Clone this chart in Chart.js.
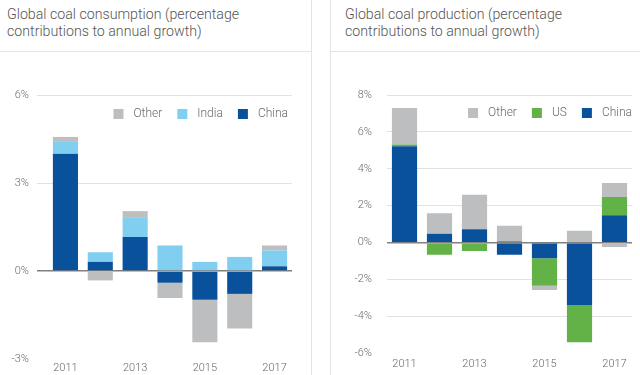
<!DOCTYPE html>
<html>
<head>
<meta charset="utf-8">
<script src="https://cdn.jsdelivr.net/npm/chart.js@4/dist/chart.umd.min.js"></script>
<style>
  body { margin: 0; background: #fff; font-family: Roboto, "Liberation Sans", sans-serif; }
  #wrap { position: relative; width: 640px; height: 375px; overflow: hidden; }
  .title { position: absolute; top: 6px; font-size: 14.2px; font-weight: 300; color: #555; line-height: 17px; }
  .vline { position: absolute; top: 0; width: 1px; height: 375px; background: #e4e4e4; }
  .hline { position: absolute; top: 51px; height: 1px; background: #e4e4e4; }
  .box { position: absolute; top: 52px; height: 323px; }
</style>
</head>
<body>
<div id="wrap">
  <div class="title" style="left:7px">Global coal consumption (percentage<br>contributions to annual growth)</div>
  <div class="title" style="left:345px">Global coal production (percentage<br>contributions to annual growth)</div>
  <div class="vline" style="left:311px"></div>
  <div class="vline" style="left:330px"></div>
  <div class="hline" style="left:0; width:311px"></div>
  <div class="hline" style="left:331px; width:309px"></div>
  <div class="box" style="left:0; width:311px"><canvas id="consumption"></canvas></div>
  <div class="box" style="left:331px; width:309px"><canvas id="production"></canvas></div>
</div>
<script>
const years = ['2011', '2012', '2013', '2014', '2015', '2016', '2017'];
const shownYears = ['2011', '2013', '2015', '2017'];

// consumption, % points
const consChina = [4.0, 0.31, 1.16, -0.40, -0.98, -0.78, 0.16];
const consIndia = [0.40, 0.33, 0.65, 0.87, 0.31, 0.48, 0.54];
const consOther = [0.17, -0.32, 0.23, -0.52, -1.45, -1.18, 0.17];
const consTicks = [-3, 0, 3, 6];

// production, % points
const prodChina = [5.23, 0.48, 0.73, -0.66, -0.84, -3.38, 1.48];
const prodUS = [0.09, -0.66, -0.45, 0.09, -1.50, -2.02, 1.00];
const prodOther = [1.98, 1.11, 1.86, 0.82, -0.22, 0.64, 0.75];
const prodOtherNeg = [0, 0, 0, 0, 0, 0, -0.24];
const prodTicks = [-6, -4, -2, 0, 2, 4, 6, 8];

const BLUE = '#0a519b';
const LIGHT = '#80cff0';
const GREY = '#bdbec0';
const GREEN = '#63b247';
const TXT = '#6a6a6a';
const FONT = { family: 'Roboto', size: 11, weight: 300 };

// legend drawn inside the plot, right aligned, in one row
const insideLegend = {
    id: 'insideLegend',
    afterDraw(chart, args, o) {
        const ctx = chart.ctx;
        const items = chart.data.datasets.filter(d => d.label !== '').reverse();
        ctx.save();
        ctx.font = '300 12px Roboto';
        ctx.textBaseline = 'middle';
        let widths = items.map(d => 10 + 10 + ctx.measureText(d.label).width);
        let total = widths.reduce((a, b) => a + b, 0) + 15 * (items.length - 1);
        let x = chart.chartArea.right - o.rightGap - total;
        const y = chart.chartArea.top + o.dy;
        items.forEach((d, i) => {
            ctx.fillStyle = d.backgroundColor;
            ctx.fillRect(x, y - 5, 10, 10);
            ctx.fillStyle = TXT;
            ctx.fillText(d.label, x + 20, y);
            x += widths[i] + 15;
        });
        ctx.restore();
    }
};

function ds(label, data, color) {
    return { label: label, data: data, backgroundColor: color, borderWidth: 0,
             barPercentage: 0.72, categoryPercentage: 1 };
}

function makeChart(id, datasets, ticks, opt) {
    const min = ticks[0];
    const max = ticks[ticks.length - 1];
    return new Chart(document.getElementById(id), {
        type: 'bar',
        data: { labels: years, datasets: datasets },
        plugins: [insideLegend],
        options: {
            responsive: true,
            maintainAspectRatio: false,
            animation: false,
            layout: { padding: { top: 43, right: opt.padRight, left: 0, bottom: 0 } },
            plugins: {
                tooltip: { enabled: false },
                legend: { display: false },
                insideLegend: { rightGap: opt.legendGap, dy: opt.legendDy }
            },
            scales: {
                x: {
                    stacked: true,
                    grid: { display: false },
                    border: { display: false },
                    ticks: {
                        autoSkip: false, maxRotation: 0, padding: opt.xPad,
                        color: TXT, font: FONT,
                        callback: function (v, i) {
                            const y = years[i];
                            return shownYears.includes(y) ? y : '';
                        }
                    },
                    afterFit: (s) => { s.height = opt.xHeight; }
                },
                y: {
                    stacked: true,
                    min: min, max: max,
                    border: { display: false },
                    grid: {
                        drawTicks: opt.tickLen > 0,
                        tickLength: opt.tickLen,
                        color: (c) => c.tick.value === 0 ? '#808080' : (c.tick.value === min ? 'rgba(0,0,0,0)' : '#e2e2e2'),
                        lineWidth: (c) => c.tick.value === 0 ? 1.5 : 1
                    },
                    afterBuildTicks: (s) => { s.ticks = ticks.map(v => ({ value: v })); },
                    ticks: {
                        padding: opt.yPad, color: TXT, font: FONT,
                        callback: (v) => v + '%'
                    },
                    afterFit: (s) => { s.width = opt.yWidth; }
                }
            }
        }
    });
}

makeChart('consumption', [
    ds('China', consChina, BLUE),
    ds('India', consIndia, LIGHT),
    ds('Other', consOther, GREY)
], consTicks, { padRight: 19, yWidth: 48, tickLen: 11, yPad: 8, xHeight: 16, xPad: -5, legendGap: 4, legendDy: 19 });

makeChart('production', [
    ds('China', prodChina, BLUE),
    ds('US', prodUS, GREEN),
    ds('Other', prodOther, GREY),
    ds('', prodOtherNeg, GREY)
], prodTicks, { padRight: 8, yWidth: 56, tickLen: 0, yPad: 15, xHeight: 18, xPad: -4, legendGap: 0, legendDy: 18 });
</script>
</body>
</html>
